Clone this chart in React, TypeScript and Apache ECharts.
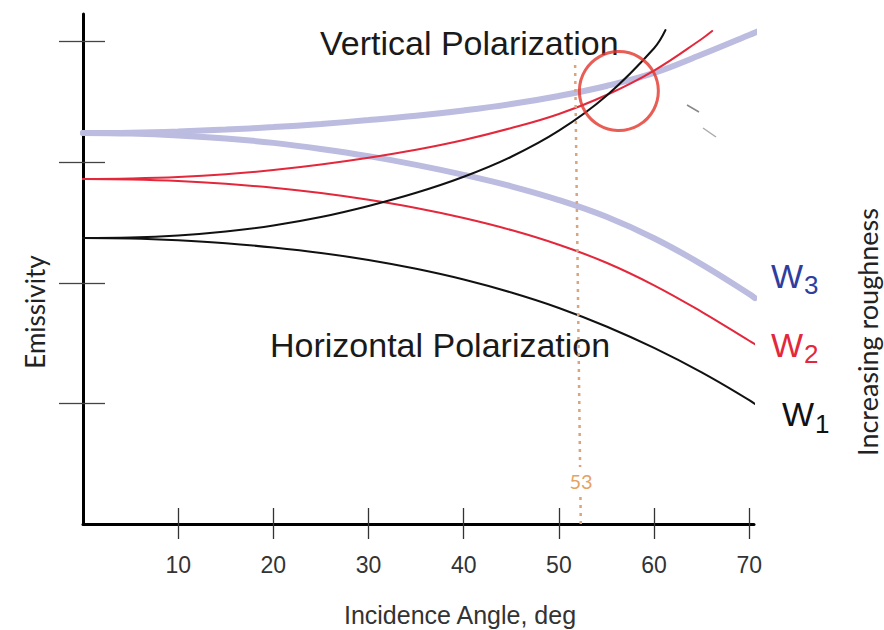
import React, { useEffect, useRef } from "react";
import * as echarts from "echarts";

// ---- Data ----
const xTicks = [10, 20, 30, 40, 50, 60, 70];
const yTicks = [1, 2, 3, 4];

// W1 (smooth surface) – vertical polarization (rising) and horizontal (falling)
const w1VX = [0, 5, 10, 15, 20, 25, 30, 35, 40, 45, 50, 55, 60, 61.2];
const w1VY = [2.372, 2.376, 2.393, 2.426, 2.476, 2.546, 2.638, 2.747, 2.88, 3.046, 3.262, 3.552, 3.946, 4.097];
const w1HX = [0, 5, 10, 15, 20, 25, 30, 35, 40, 45, 50, 55, 60, 65, 70, 70.6];
const w1HY = [2.372, 2.368, 2.353, 2.329, 2.293, 2.248, 2.19, 2.117, 2.028, 1.92, 1.792, 1.638, 1.46, 1.257, 1.028, 0.995];

// W2
const w2VX = [0, 5, 10, 15, 20, 25, 30, 35, 40, 45, 50, 55, 60, 65, 66.1];
const w2VY = [2.861, 2.866, 2.878, 2.901, 2.936, 2.982, 3.038, 3.104, 3.185, 3.284, 3.401, 3.558, 3.761, 4.023, 4.089];
const w2HX = [0, 5, 10, 15, 20, 25, 30, 35, 40, 45, 50, 55, 60, 65, 70, 70.6];
const w2HY = [2.861, 2.857, 2.845, 2.822, 2.789, 2.745, 2.689, 2.621, 2.538, 2.438, 2.316, 2.167, 1.98, 1.76, 1.52, 1.491];

// W3 (rough surface)
const w3VX = [0, 5, 10, 15, 20, 25, 30, 35, 40, 45, 50, 55, 60, 65, 70, 71.1];
const w3VY = [3.243, 3.246, 3.256, 3.272, 3.292, 3.318, 3.35, 3.386, 3.43, 3.483, 3.55, 3.633, 3.741, 3.894, 4.056, 4.091];
const w3HX = [0, 5, 10, 15, 20, 25, 30, 35, 40, 45, 50, 55, 60, 65, 70, 70.6];
const w3HY = [3.243, 3.238, 3.223, 3.198, 3.161, 3.111, 3.051, 2.979, 2.896, 2.801, 2.687, 2.548, 2.37, 2.154, 1.908, 1.874];

// Marker line (angle 53) and highlight circle
const markLineStart = [52.3, 0];
const markLineEnd = [51.7, 3.85];
const circleCenter = [56.3, 3.591];

const pairs = (xs: number[], ys: number[]) => xs.map((x, i) => [x, ys[i]]);

const FONT = "Liberation Sans, Arial, sans-serif";
const CAL = "Lato, Liberation Sans, sans-serif";

const lineSeries = (name: string, xs: number[], ys: number[], color: string, width: number, z: number) => ({
  name,
  type: "line",
  data: pairs(xs, ys),
  smooth: 0.4,
  showSymbol: false,
  symbol: "none",
  clip: false,
  z,
  lineStyle: { color, width, cap: "round" },
  silent: true,
});

const RED = "#e3283c";
const LAV = "#bbbcdf";
const BLK = "#111111";

const option: any = {
  animation: false,
  backgroundColor: "#ffffff",
  grid: { left: 83, top: 14, width: 671, height: 510, containLabel: false },
  xAxis: [
    {
      type: "value",
      min: 0,
      max: 70.5,
      position: "bottom",
      axisLine: { show: true, onZero: false, lineStyle: { color: "#000", width: 3 } },
      axisTick: { show: true, customValues: xTicks, length: 15, lineStyle: { color: "#333", width: 1.3 } },
      axisLabel: { customValues: xTicks, margin: 29, fontSize: 23, color: "#333", fontFamily: FONT },
      splitLine: { show: false },
    },
    {
      type: "value",
      min: 0,
      max: 70.5,
      position: "bottom",
      offset: 0,
      axisLine: { show: false },
      axisTick: { show: true, inside: true, customValues: xTicks, length: 16, lineStyle: { color: "#333", width: 1.3 } },
      axisLabel: { show: false },
      splitLine: { show: false },
    },
  ],
  yAxis: [
    {
      type: "value",
      min: 0,
      max: 4.23,
      position: "left",
      axisLine: { show: true, onZero: false, lineStyle: { color: "#000", width: 3 } },
      axisTick: { show: true, customValues: yTicks, length: 24, lineStyle: { color: "#444", width: 1.3 } },
      axisLabel: { show: false },
      splitLine: { show: false },
    },
    {
      type: "value",
      min: 0,
      max: 4.23,
      position: "left",
      offset: 0,
      axisLine: { show: false },
      axisTick: { show: true, inside: true, customValues: yTicks, length: 22, lineStyle: { color: "#444", width: 1.3 } },
      axisLabel: { show: false },
      splitLine: { show: false },
    },
  ],
  series: [
    {
      ...lineSeries("W3 H", w3HX, w3HY, LAV, 6, 2),
      markLine: {
        silent: true,
        symbol: ["none", "none"],
        label: { show: false },
        lineStyle: { color: "#d9a57c", type: [3, 5], width: 2.5 },
        data: [[{ coord: markLineStart }, { coord: markLineEnd }]],
      },
    },
    lineSeries("W3 V", w3VX, w3VY, LAV, 6, 2),
    lineSeries("W2 H", w2HX, w2HY, RED, 2, 3),
    lineSeries("W2 V", w2VX, w2VY, RED, 2, 3),
    lineSeries("W1 H", w1HX, w1HY, BLK, 2, 4),
    lineSeries("W1 V", w1VX, w1VY, BLK, 2, 4),
    {
      name: "highlight",
      type: "scatter",
      data: [circleCenter],
      symbol: "circle",
      symbolSize: 79,
      z: 10,
      silent: true,
      itemStyle: { color: "rgba(0,0,0,0)", borderColor: "#e2352a", borderWidth: 3 },
    },
  ],
  graphic: [
    {
      type: "text",
      x: 320,
      y: 43,
      style: { text: "Vertical Polarization", font: `34px ${FONT}`, fill: "#1a1a1a", align: "left", verticalAlign: "middle" },
    },
    {
      type: "text",
      x: 270,
      y: 345,
      style: { text: "Horizontal Polarization", font: `34px ${FONT}`, fill: "#1a1a1a", align: "left", verticalAlign: "middle" },
    },
    {
      type: "text",
      x: 35,
      y: 312,
      rotation: Math.PI / 2,
      style: { text: "Emissivity", font: `26px ${CAL}`, fill: "#222", align: "center", verticalAlign: "middle" },
    },
    {
      type: "text",
      x: 867,
      y: 332,
      rotation: Math.PI / 2,
      style: { text: "Increasing roughness", font: `27px ${CAL}`, fill: "#222", align: "center", verticalAlign: "middle" },
    },
    {
      type: "text",
      x: 460,
      y: 615,
      style: { text: "Incidence Angle, deg", font: `25px ${FONT}`, fill: "#333", align: "center", verticalAlign: "middle" },
    },
    {
      type: "text",
      x: 581,
      y: 481,
      z: 20,
      style: {
        text: "53",
        font: `20px ${CAL}`,
        fill: "#e6a262",
        align: "center",
        verticalAlign: "middle",
        backgroundColor: "#fff",
        padding: [4, 2],
      },
    },
    // W labels
    { type: "text", x: 771, y: 276, style: { text: "W", font: `34px ${FONT}`, fill: "#2f3da0", verticalAlign: "middle" } },
    { type: "text", x: 804, y: 285, style: { text: "3", font: `26px ${FONT}`, fill: "#2f3da0", verticalAlign: "middle" } },
    { type: "text", x: 771, y: 345, style: { text: "W", font: `34px ${FONT}`, fill: RED, verticalAlign: "middle" } },
    { type: "text", x: 804, y: 354, style: { text: "2", font: `26px ${FONT}`, fill: RED, verticalAlign: "middle" } },
    { type: "text", x: 782, y: 414, style: { text: "W", font: `34px ${FONT}`, fill: BLK, verticalAlign: "middle" } },
    { type: "text", x: 815, y: 424, style: { text: "1", font: `26px ${FONT}`, fill: BLK, verticalAlign: "middle" } },
    // faint stray strokes from the source image
    { type: "line", shape: { x1: 687, y1: 105, x2: 699, y2: 112 }, style: { stroke: "#888", lineWidth: 1.5 } },
    { type: "line", shape: { x1: 703, y1: 128, x2: 716, y2: 137 }, style: { stroke: "#aaa", lineWidth: 1.5 } },
  ],
};

export default function App() {
  const ref = useRef<HTMLDivElement>(null);
  useEffect(() => {
    if (!ref.current) return;
    const chart = echarts.init(ref.current, null, { renderer: "svg" });
    chart.setOption(option);
    return () => chart.dispose();
  }, []);
  return <div ref={ref} style={{ position: "fixed", left: 0, top: 0, width: 884, height: 630, background: "#fff" }} />;
}
